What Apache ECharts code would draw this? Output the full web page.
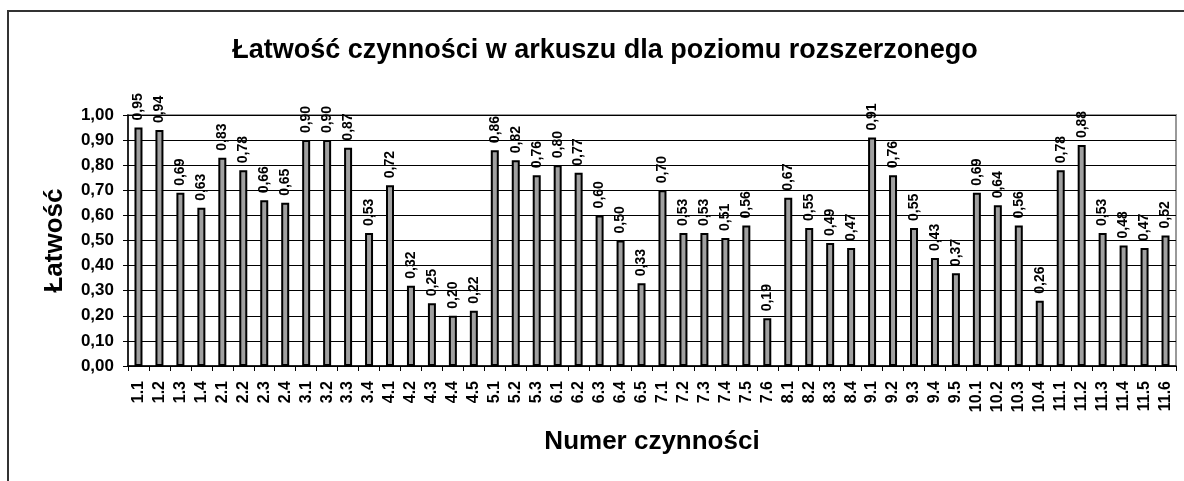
<!DOCTYPE html>
<html>
<head>
<meta charset="utf-8">
<script src="https://cdn.jsdelivr.net/npm/echarts@6/dist/echarts.min.js"></script>
<style>
html,body{margin:0;padding:0;background:#fff;}
#c{width:1184px;height:481px;}
</style>
</head>
<body>
<div id="c"></div>
<script>
const categories = ['1.1','1.2','1.3','1.4','2.1','2.2','2.3','2.4','3.1','3.2','3.3','3.4','4.1','4.2','4.3','4.4','4.5','5.1','5.2','5.3','6.1','6.2','6.3','6.4','6.5','7.1','7.2','7.3','7.4','7.5','7.6','8.1','8.2','8.3','8.4','9.1','9.2','9.3','9.4','9.5','10.1','10.2','10.3','10.4','11.1','11.2','11.3','11.4','11.5','11.6'];
const values = [0.95,0.94,0.69,0.63,0.83,0.78,0.66,0.65,0.90,0.90,0.87,0.53,0.72,0.32,0.25,0.20,0.22,0.86,0.82,0.76,0.80,0.77,0.60,0.50,0.33,0.70,0.53,0.53,0.51,0.56,0.19,0.67,0.55,0.49,0.47,0.91,0.76,0.55,0.43,0.37,0.69,0.64,0.56,0.26,0.78,0.88,0.53,0.48,0.47,0.52];
const titleText = 'Łatwość czynności w arkuszu dla poziomu rozszerzonego';
const yName = 'Łatwość';
const xName = 'Numer czynności';

const FONT = '"Liberation Sans", Arial, sans-serif';
const fmt = v => Number(v).toFixed(2).replace('.', ',');

const chart = echarts.init(document.getElementById('c'));
chart.setOption({
  animation: false,
  backgroundColor: '#fff',
  title: {
    text: titleText,
    left: 600,
    textAlign: 'center',
    top: 32,
    textStyle: {fontFamily: FONT, fontWeight: 'bold', fontSize: 27, color: '#000'}
  },
  graphic: [
    {type: 'polyline', shape: {points: [[8, 481], [8, 11], [1184, 11]]}, style: {stroke: '#333', lineWidth: 2, fill: null}, silent: true}
  ],
  grid: {left: 128, right: 8, top: 115, bottom: 115, show: true, borderColor: '#999', borderWidth: 2, backgroundColor: 'transparent'},
  xAxis: {
    type: 'category',
    data: categories,
    name: xName,
    nameLocation: 'middle',
    nameGap: 63,
    nameTextStyle: {fontFamily: FONT, fontWeight: 'bold', fontSize: 26, color: '#000'},
    axisLine: {lineStyle: {color: '#000', width: 1.5}},
    axisTick: {show: true, length: 5, lineStyle: {color: '#000'}},
    axisLabel: {rotate: 90, interval: 0, fontFamily: FONT, fontWeight: 'bold', fontSize: 16, color: '#000', margin: 15}
  },
  yAxis: {
    type: 'value',
    min: 0,
    max: 1,
    interval: 0.1,
    name: yName,
    nameLocation: 'middle',
    nameGap: 60,
    nameRotate: 90,
    nameTextStyle: {fontFamily: FONT, fontWeight: 'bold', fontSize: 26, color: '#000'},
    axisLine: {show: true, lineStyle: {color: '#000', width: 1.5}},
    axisTick: {show: true, length: 5, lineStyle: {color: '#000'}},
    axisLabel: {formatter: fmt, fontFamily: FONT, fontWeight: 'bold', fontSize: 17, color: '#000', margin: 14},
    splitLine: {show: true, lineStyle: {color: '#000', width: 1}}
  },
  series: [{
    type: 'bar',
    data: values,
    barWidth: 8,
    itemStyle: {color: '#a0a0a0', borderColor: '#000', borderWidth: 2},
    label: {
      show: true,
      position: 'top',
      rotate: 90,
      align: 'left',
      verticalAlign: 'middle',
      distance: 7,
      formatter: p => fmt(p.value),
      fontFamily: FONT,
      fontWeight: 'bold',
      fontSize: 14,
      color: '#000'
    }
  }]
});
</script>
</body>
</html>
